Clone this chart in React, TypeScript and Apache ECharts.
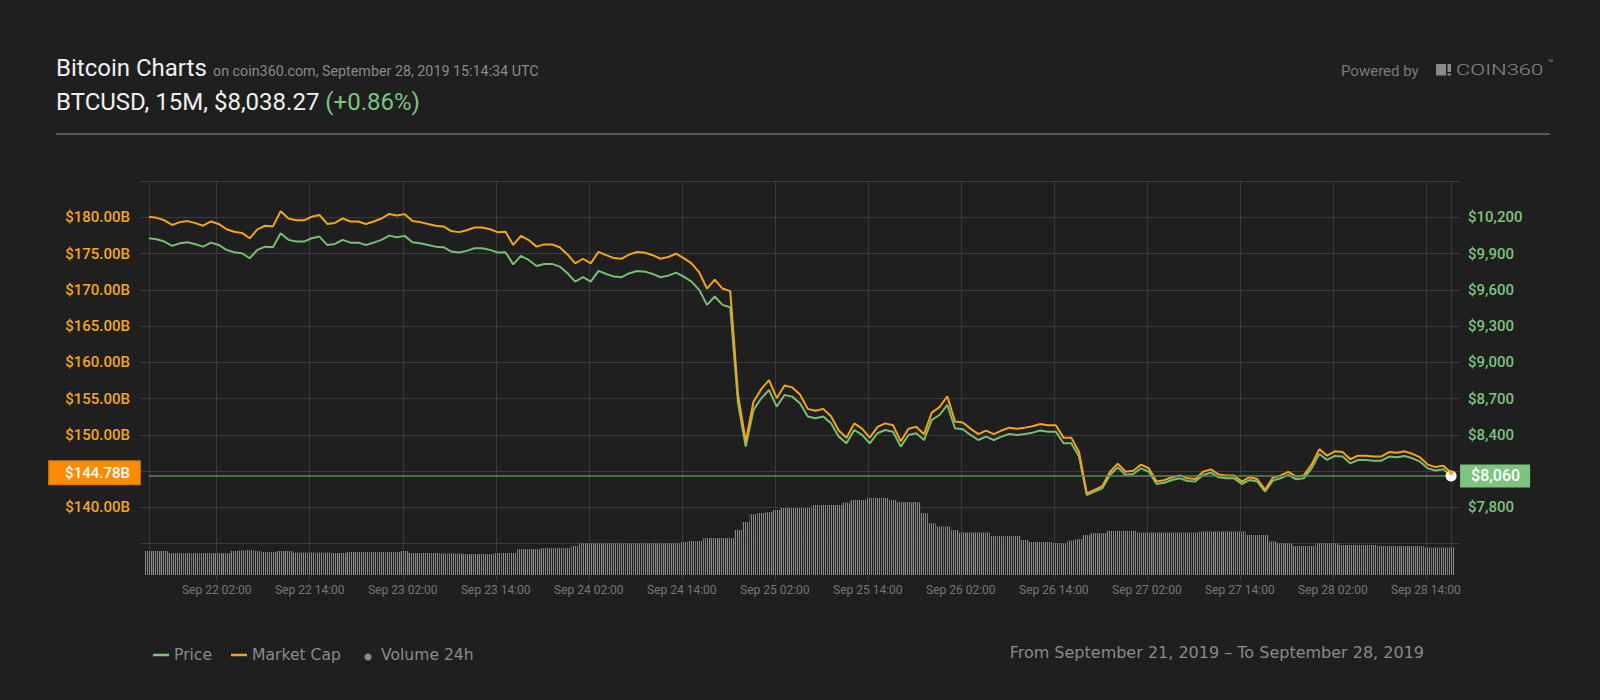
import React, { useEffect, useRef } from 'react';
import * as echarts from 'echarts';

// Hours since Sep 21 14:00 (chart local time) of the first hourly sample
const START_HOUR = 3.25;

const PRICE = [
  10026, 10018, 9999, 9963, 9985, 9993, 9977, 9957, 9990, 9971,
  9930, 9911, 9902, 9861, 9930, 9957, 9952, 10068, 10013, 9999,
  9999, 10026, 10040, 9971, 9979, 10013, 9990, 9990, 9971, 9990,
  10013, 10048, 10035, 10046, 9993, 9985, 9971, 9957, 9952, 9916,
  9908, 9922, 9944, 9944, 9930, 9908, 9911, 9810, 9880, 9847,
  9797, 9814, 9814, 9792, 9737, 9668, 9704, 9668, 9756, 9731,
  9709, 9704, 9737, 9756, 9750, 9731, 9704, 9717, 9742, 9709,
  9668, 9599, 9475, 9544, 9475, 9455, 8661, 8302, 8606, 8702,
  8771, 8633, 8730, 8716, 8661, 8551, 8537, 8551, 8495, 8385,
  8330, 8440, 8399, 8330, 8413, 8440, 8426, 8302, 8399, 8413,
  8357, 8523, 8564, 8647, 8454, 8446, 8399, 8357, 8385, 8357,
  8385, 8407, 8399, 8407, 8418, 8435, 8426, 8426, 8330, 8330,
  8220, 7902, 7930, 7957, 8068, 8131, 8068, 8076, 8123, 8095,
  7993, 8004, 8026, 8040, 8018, 8013, 8068, 8087, 8048, 8040,
  8040, 7993, 8026, 8013, 7930, 8021, 8040, 8068, 8032, 8040,
  8123, 8241, 8192, 8225, 8220, 8164, 8192, 8192, 8186, 8186,
  8220, 8214, 8225, 8206, 8178, 8123, 8104, 8115, 8060,
];

const MARKET_CAP = [
  180.07, 179.92, 179.58, 178.94, 179.33, 179.47, 179.19, 178.83, 179.42, 179.08,
  178.34, 178.00, 177.84, 177.10, 178.34, 178.83, 178.74, 180.82, 179.83, 179.58,
  179.58, 180.07, 180.32, 179.08, 179.22, 179.83, 179.42, 179.42, 179.08, 179.42,
  179.83, 180.46, 180.23, 180.43, 179.47, 179.33, 179.08, 178.83, 178.74, 178.09,
  177.95, 178.20, 178.59, 178.59, 178.34, 177.95, 178.00, 176.19, 177.44, 176.85,
  175.95, 176.26, 176.26, 175.86, 174.88, 173.64, 174.28, 173.64, 175.22, 174.77,
  174.37, 174.28, 174.88, 175.22, 175.11, 174.77, 174.28, 174.52, 174.97, 174.37,
  173.64, 172.40, 170.17, 171.41, 170.17, 169.81, 155.55, 149.10, 154.56, 156.29,
  157.53, 155.05, 156.79, 156.54, 155.55, 153.58, 153.32, 153.58, 152.57, 150.59,
  149.61, 151.58, 150.85, 149.61, 151.10, 151.58, 151.33, 149.10, 150.85, 151.10,
  150.09, 153.07, 153.81, 155.30, 151.83, 151.69, 150.85, 150.09, 150.59, 150.09,
  150.59, 150.99, 150.85, 150.99, 151.19, 151.49, 151.33, 151.33, 149.61, 149.61,
  147.63, 141.92, 142.42, 142.91, 144.90, 146.03, 144.90, 145.05, 145.89, 145.39,
  143.55, 143.75, 144.15, 144.40, 144.00, 143.91, 144.90, 145.24, 144.54, 144.40,
  144.40, 143.55, 144.15, 143.91, 142.42, 144.06, 144.40, 144.90, 144.25, 144.40,
  145.89, 148.01, 147.13, 147.72, 147.63, 146.63, 147.13, 147.13, 147.02, 147.02,
  147.63, 147.52, 147.72, 147.38, 146.88, 145.89, 145.55, 145.75, 144.78,
];

// 24h volume, $B
const VOLUME = [
  7.2, 7.2, 7.2, 6.5, 6.5, 6.5, 6.5, 6.5, 6.5, 6.5,
  6.5, 7.2, 7.3, 7.5, 7.2, 6.9, 6.9, 7.2, 7.2, 6.7,
  6.7, 6.7, 6.7, 6.7, 6.6, 6.6, 6.9, 6.9, 6.9, 6.9,
  6.9, 6.9, 6.9, 7.2, 6.6, 6.6, 6.6, 6.6, 6.4, 6.4,
  6.4, 6.2, 6.2, 6.2, 6.2, 6.6, 6.6, 6.6, 7.7, 7.7,
  7.7, 8.0, 8.0, 8.0, 8.0, 8.7, 9.5, 9.5, 9.5, 9.5,
  9.5, 9.5, 9.5, 9.5, 9.5, 9.5, 9.5, 9.5, 9.5, 9.9,
  10.2, 10.2, 11.0, 11.0, 11.0, 11.0, 13.5, 15.9, 18.2, 18.6,
  18.8, 19.5, 20.1, 20.1, 20.1, 20.1, 21.0, 21.0, 21.0, 21.0,
  21.7, 22.5, 22.5, 23.1, 23.1, 23.1, 22.5, 21.8, 21.8, 21.8,
  18.5, 15.5, 14.5, 14.5, 13.5, 12.7, 12.7, 12.7, 12.7, 11.7,
  11.7, 11.7, 11.7, 10.5, 9.9, 9.9, 9.9, 9.5, 9.5, 10.3,
  10.7, 12.0, 12.5, 12.5, 13.2, 13.2, 13.2, 13.2, 12.7, 12.7,
  12.7, 12.7, 12.7, 12.7, 12.7, 12.7, 13.0, 13.0, 13.0, 13.0,
  13.0, 13.0, 12.0, 12.0, 12.0, 10.0, 9.5, 9.5, 8.7, 8.7,
  8.7, 9.5, 9.5, 9.5, 9.0, 9.0, 9.0, 9.0, 9.0, 8.6,
  8.6, 8.6, 8.6, 8.6, 8.6, 8.2, 8.2, 8.2, 8.2,
];

const TICK_HOURS = [12, 24, 36, 48, 60, 72, 84, 96, 108, 120, 132, 144, 156, 168];
const TICK_LABELS = [
  'Sep 22 02:00', 'Sep 22 14:00', 'Sep 23 02:00', 'Sep 23 14:00',
  'Sep 24 02:00', 'Sep 24 14:00', 'Sep 25 02:00', 'Sep 25 14:00',
  'Sep 26 02:00', 'Sep 26 14:00', 'Sep 27 02:00', 'Sep 27 14:00',
  'Sep 28 02:00', 'Sep 28 14:00',
];

const CURRENT_PRICE = 8060;
const CURRENT_MCAP = 144.78;
const HEADER_PRICE = '$8,038.27';
const HEADER_CHANGE = '(+0.86%)';
const SUBTITLE = 'on coin360.com, September 28, 2019 15:14:34 UTC';
const DATE_RANGE = 'From September 21, 2019 \u2013 To September 28, 2019';

const BG = '#1e1f1e';
const GRID_LINE = '#3a3a3a';
const GREEN = '#77bd72';
const GREEN_LABEL = '#7cc47f';
const ORANGE = '#f6a31c';
const GRAY_TEXT = '#8a8a8a';

function buildOption() {
  const hours = PRICE.map((_, i) => START_HOUR + i);
  const first = hours[0];
  const last = hours[hours.length - 1];
  const X_MIN = 2.1;
  const X_MAX = 172.4;
  const VOL_MIN = -1.8;
  const VOL_MAX = 118.2;

  const fmtLeft = (v: number) => {
    const r = Math.round(v);
    return r >= 140 && r <= 180 && r !== 145 ? '$' + r.toFixed(2) + 'B' : '';
  };
  const fmtRight = (v: number) => {
    const r = Math.round(v);
    return r >= 7800 && r <= 10200 && r !== 8100 ? '$' + r.toLocaleString('en-US') : '';
  };

  const legendY = 655;

  return {
    animation: false,
    backgroundColor: BG,
    grid: [
      { left: 140, right: 140, top: 181, bottom: 156.4, outerBoundsMode: 'none' },
      { left: 140, right: 140, top: 181, bottom: 119, outerBoundsMode: 'none' },
    ],
    xAxis: [
      { type: 'value', gridIndex: 0, min: X_MIN, max: X_MAX, show: false },
      { type: 'value', gridIndex: 1, min: X_MIN, max: X_MAX, show: false },
    ],
    yAxis: [
      {
        type: 'value', gridIndex: 0, position: 'left', min: 135, max: 185, interval: 5,
        axisLine: { show: false }, axisTick: { show: false },
        splitLine: { show: true, lineStyle: { color: GRID_LINE, width: 1 } },
        axisLabel: { color: '#f5a623', fontFamily: 'Roboto', fontSize: 15, fontWeight: 500, margin: 10, formatter: fmtLeft },
      },
      {
        type: 'value', gridIndex: 0, position: 'right', min: 7500, max: 10500, interval: 300,
        axisLine: { show: false }, axisTick: { show: false }, splitLine: { show: false },
        axisLabel: { color: GREEN_LABEL, fontFamily: 'Roboto', fontSize: 15, fontWeight: 500, margin: 8, formatter: fmtRight },
      },
      { type: 'value', gridIndex: 1, min: VOL_MIN, max: VOL_MAX, show: false },
    ],
    series: [
      {
        name: 'Volume 24h',
        type: 'bar',
        xAxisIndex: 1,
        yAxisIndex: 2,
        barWidth: 7.75,
        z: 1,
        silent: true,
        itemStyle: {
          color: '#8c8c8c',
          decal: {
            symbol: 'rect',
            symbolSize: 1,
            color: BG,
            dashArrayX: [1, 1],
            dashArrayY: [4, 0],
            rotation: 0,
          },
        },
        data: hours.map((h, i) => [h, VOLUME[i]]),
        markLine: {
          silent: true,
          symbol: ['none', 'none'],
          z: 1,
          animation: false,
          lineStyle: { color: GRID_LINE, width: 1, type: 'solid' },
          label: {
            show: true,
            position: 'start',
            distance: 3,
            color: '#777777',
            fontFamily: 'Roboto',
            fontSize: 12,
            formatter: (p: any) => p.name || '',
          },
          data: [
            ...TICK_HOURS.map((h, i) => ({ xAxis: h, name: TICK_LABELS[i] })),
            [{ coord: [first, 0], name: '' }, { coord: [first, VOL_MAX] }],
            [{ coord: [last, 0], name: '' }, { coord: [last, VOL_MAX] }],
          ],
        },
      },
      {
        name: 'Price',
        type: 'line',
        xAxisIndex: 0,
        yAxisIndex: 1,
        showSymbol: false,
        symbol: 'none',
        z: 3,
        silent: true,
        lineStyle: { color: GREEN, width: 2 },
        data: hours.map((h, i) => [h, PRICE[i]]),
        markLine: {
          silent: true,
          symbol: ['none', 'none'],
          z: 4,
          animation: false,
          lineStyle: { color: '#5b8a59', width: 1.5, type: 'solid' },
          label: {
            show: true,
            position: 'end',
            distance: 9,
            formatter: '$' + CURRENT_PRICE.toLocaleString('en-US'),
            color: '#ffffff',
            backgroundColor: GREEN_LABEL,
            padding: [4, 10, 3, 11],
            fontFamily: 'Roboto',
            fontSize: 16,
            fontWeight: 500,
          },
          data: [[{ coord: [first, CURRENT_PRICE] }, { coord: [last, CURRENT_PRICE] }]],
        },
        markPoint: {
          silent: true,
          symbol: 'circle',
          symbolSize: 11,
          z: 5,
          animation: false,
          itemStyle: { color: '#ffffff' },
          label: { show: false },
          data: [{ coord: [last, PRICE[PRICE.length - 1]] }],
        },
      },
      {
        name: 'Market Cap',
        type: 'line',
        xAxisIndex: 0,
        yAxisIndex: 0,
        showSymbol: false,
        symbol: 'none',
        z: 3,
        silent: true,
        lineStyle: { color: ORANGE, width: 2 },
        data: hours.map((h, i) => [h, MARKET_CAP[i]]),
        markLine: {
          silent: true,
          symbol: ['none', 'none'],
          z: 4,
          animation: false,
          lineStyle: { color: 'rgba(0,0,0,0)', width: 1, type: 'solid' },
          label: {
            show: true,
            position: 'start',
            distance: 9,
            formatter: '$' + CURRENT_MCAP.toFixed(2) + 'B',
            color: '#ffffff',
            backgroundColor: '#fb8c00',
            borderColor: '#d47400',
            borderWidth: 1,
            padding: [4, 10, 4, 16],
            fontFamily: 'Roboto',
            fontSize: 15,
            fontWeight: 500,
            opacity: 1,
          },
          data: [[{ coord: [first, CURRENT_MCAP] }, { coord: [last, CURRENT_MCAP] }]],
        },
        markPoint: {
          silent: true,
          symbol: 'circle',
          symbolSize: 5,
          z: 6,
          animation: false,
          itemStyle: { color: ORANGE },
          label: { show: false },
          data: [{ coord: [last, MARKET_CAP[MARKET_CAP.length - 1]] }],
        },
      },
    ],
    graphic: [
      { type: 'text', x: 56, y: 68, silent: true, style: { text: 'Bitcoin Charts', fill: '#f0f0f0', fontSize: 24, fontFamily: 'Roboto', verticalAlign: 'middle' } },
      { type: 'text', x: 213, y: 71.2, silent: true, style: { text: SUBTITLE, fill: GRAY_TEXT, fontSize: 14.3, fontFamily: 'Roboto', verticalAlign: 'middle' } },
      {
        type: 'text', x: 56, y: 102, silent: true,
        style: {
          text: '{w|BTCUSD, 15M, ' + HEADER_PRICE + ' }{g|' + HEADER_CHANGE + '}',
          verticalAlign: 'middle',
          fontSize: 24, fontFamily: 'Roboto',
          rich: {
            w: { fill: '#f0f0f0', fontSize: 24, fontFamily: 'Roboto' },
            g: { fill: GREEN_LABEL, fontSize: 24, fontFamily: 'Roboto' },
          },
        },
      },
      { type: 'line', silent: true, shape: { x1: 56, y1: 134, x2: 1550, y2: 134 }, style: { stroke: '#575757', lineWidth: 2 } },
      { type: 'text', x: 1341, y: 71, silent: true, style: { text: 'Powered by', fill: '#7a7a7a', fontSize: 15, fontFamily: 'Roboto', verticalAlign: 'middle' } },
      { type: 'rect', silent: true, shape: { x: 1436, y: 64, width: 10, height: 11.5 }, style: { fill: GRAY_TEXT } },
      { type: 'rect', silent: true, shape: { x: 1447.5, y: 64, width: 3.5, height: 8 }, style: { fill: GRAY_TEXT } },
      { type: 'rect', silent: true, shape: { x: 1447.5, y: 73.5, width: 3.5, height: 2 }, style: { fill: GRAY_TEXT } },
      { type: 'text', x: 1456, y: 69.8, scaleX: 1.42, silent: true, style: { text: 'COIN360', fill: GRAY_TEXT, fontSize: 15.5, fontFamily: 'Roboto', fontWeight: 300, verticalAlign: 'middle' } },
      { type: 'text', x: 1548, y: 63, silent: true, style: { text: '\u2122', fill: GRAY_TEXT, fontSize: 9, fontFamily: 'Roboto', verticalAlign: 'middle' } },

      { type: 'line', silent: true, shape: { x1: 153, y1: legendY, x2: 169, y2: legendY }, style: { stroke: GREEN_LABEL, lineWidth: 2.5 } },
      { type: 'text', x: 174, y: legendY, silent: true, style: { text: 'Price', fill: GRAY_TEXT, fontSize: 15.6, fontFamily: 'DejaVu Sans', verticalAlign: 'middle' } },
      { type: 'line', silent: true, shape: { x1: 231, y1: legendY, x2: 247, y2: legendY }, style: { stroke: ORANGE, lineWidth: 2.5 } },
      { type: 'text', x: 252, y: legendY, silent: true, style: { text: 'Market Cap', fill: GRAY_TEXT, fontSize: 15.6, fontFamily: 'DejaVu Sans', verticalAlign: 'middle' } },
      { type: 'circle', silent: true, shape: { cx: 368, cy: legendY + 2, r: 3.6 }, style: { fill: GRAY_TEXT } },
      { type: 'text', x: 381, y: legendY, silent: true, style: { text: 'Volume 24h', fill: GRAY_TEXT, fontSize: 15.6, fontFamily: 'DejaVu Sans', verticalAlign: 'middle' } },
      { type: 'text', x: 1424, y: 652, silent: true, style: { text: DATE_RANGE, fill: GRAY_TEXT, fontSize: 16, fontFamily: 'DejaVu Sans', align: 'right', verticalAlign: 'middle' } },
    ],
  };
}

export default function App() {
  const ref = useRef<HTMLDivElement>(null);
  useEffect(() => {
    document.body.style.margin = '0';
    document.body.style.background = BG;
    const el = ref.current;
    if (!el) return;
    const chart = echarts.init(el, undefined, { renderer: 'svg', width: 1600, height: 700 });
    chart.setOption(buildOption() as any);
    return () => {
      chart.dispose();
    };
  }, []);
  return <div ref={ref} style={{ width: 1600, height: 700, background: BG }} />;
}
